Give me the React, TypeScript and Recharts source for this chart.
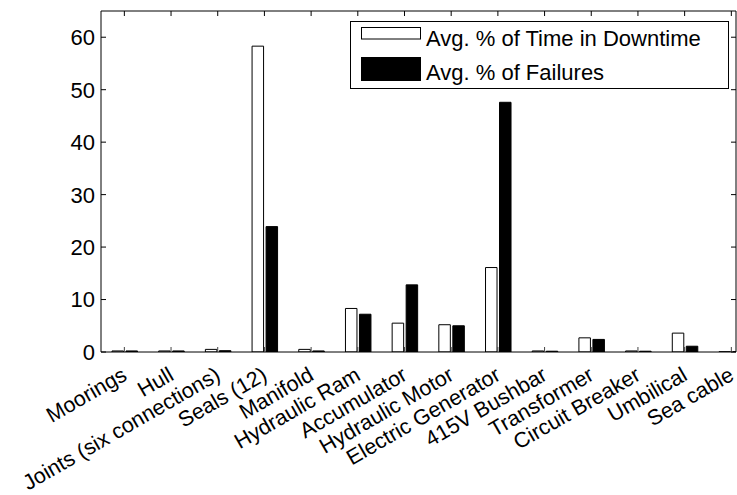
import React from 'react'
import { Bar, BarChart, Legend, XAxis, YAxis } from 'recharts'

// ─── data ─────────────────────────────────────────────────────
const components = [
  'Moorings', 'Hull', 'Joints (six connections)', 'Seals (12)', 'Manifold',
  'Hydraulic Ram', 'Accumulator', 'Hydraulic Motor', 'Electric Generator',
  '415V Bushbar', 'Transformer', 'Circuit Breaker', 'Umbilical', 'Sea cable',
]
const downtimePct = [0.2, 0.2, 0.5, 58.3, 0.5, 8.3, 5.5, 5.2, 16.1, 0.2, 2.7, 0.2, 3.6, 0.05]
const failurePct = [0.2, 0.2, 0.25, 23.9, 0.2, 7.2, 12.8, 5.0, 47.6, 0.15, 2.4, 0.15, 1.1, 0.05]
const yTicks = [0, 10, 20, 30, 40, 50, 60]

const SERIES = {
  downtime: 'Avg. % of Time in Downtime',
  failures: 'Avg. % of Failures',
}

const data = components.map((name, i) => ({
  pos: i + 1,
  name,
  downtime: downtimePct[i],
  failures: failurePct[i],
}))
const xTicks = data.map(d => d.pos)

const FONT = '"Liberation Sans", Arial, sans-serif'
const X_DOMAIN: [number, number] = [0.5, 14.1]
const Y_DOMAIN: [number, number] = [0, 65]

// ─── ticks (MATLAB style, pointing inward) ────────────────────
function BottomTick({ x, y, payload }: any) {
  const label = components[payload.value - 1]
  const lx = x + 4
  const ly = y + 27
  return (
    <g>
      <line x1={x} y1={y} x2={x} y2={y - 5} stroke="#444" />
      <text x={lx} y={ly} textAnchor="end" fontSize={21.5} fontFamily={FONT} fill="#000"
        transform={`rotate(-30, ${lx}, ${ly})`}>
        {label}
      </text>
    </g>
  )
}

function TopTick({ x, y }: any) {
  return <line x1={x} y1={y} x2={x} y2={y + 5} stroke="#000" />
}

function LeftTick({ x, y, payload }: any) {
  return (
    <g>
      <line x1={x} y1={y} x2={x + 5} y2={y} stroke="#000" />
      <text x={x - 6} y={y} dy="0.36em" textAnchor="end" fontSize={22} fontFamily={FONT} fill="#000">
        {payload.value}
      </text>
    </g>
  )
}

function RightTick({ x, y }: any) {
  return <line x1={x} y1={y} x2={x - 5} y2={y} stroke="#000" />
}

function LegendBox() {
  return (
    <svg width={379} height={68} style={{ display: 'block' }}>
      <rect x={0.5} y={0.5} width={378} height={67} fill="#fff" stroke="#000" />
      <rect x={11.5} y={6.5} width={59} height={11.5} fill="#fff" stroke="#000" />
      <text x={76} y={25} fontSize={22} fontFamily={FONT} fill="#000">{SERIES.downtime}</text>
      <rect x={11} y={36} width={60} height={24} fill="#000" />
      <text x={76} y={59} fontSize={22} fontFamily={FONT} fill="#000">{SERIES.failures}</text>
    </svg>
  )
}

export default function App() {
  return (
    <div style={{ width: 737, height: 495, background: '#fff', position: 'relative' }}>
      <style>{'body{margin:0;background:#fff}'}</style>
      <BarChart
        width={737}
        height={495}
        data={data}
        margin={{ top: 10, right: 0, bottom: 142, left: 100 }}
        barGap={2.5}
      >
        <XAxis
          xAxisId="bottom"
          dataKey="pos"
          type="number"
          domain={X_DOMAIN}
          allowDataOverflow
          ticks={xTicks}
          interval={0}
          height={1}
          tickSize={0}
          tickMargin={0}
          tickLine={false}
          tick={<BottomTick />}
          axisLine={{ stroke: '#000' }}
        />
        <XAxis
          xAxisId="top"
          orientation="top"
          dataKey="pos"
          type="number"
          domain={X_DOMAIN}
          allowDataOverflow
          ticks={xTicks}
          interval={0}
          height={1}
          tickSize={0}
          tickMargin={0}
          tickLine={false}
          tick={<TopTick />}
          axisLine={{ stroke: '#000' }}
        />
        <YAxis
          yAxisId="left"
          type="number"
          domain={Y_DOMAIN}
          allowDataOverflow
          ticks={yTicks}
          interval={0}
          width={1}
          tickSize={0}
          tickMargin={0}
          tickLine={false}
          tick={<LeftTick />}
          axisLine={{ stroke: '#000' }}
        />
        <YAxis
          yAxisId="right"
          orientation="right"
          type="number"
          domain={Y_DOMAIN}
          allowDataOverflow
          ticks={yTicks}
          interval={0}
          width={1}
          tickSize={0}
          tickMargin={0}
          tickLine={false}
          tick={<RightTick />}
          axisLine={{ stroke: '#000' }}
        />
        <Legend
          layout="vertical"
          align="center"
          verticalAlign="middle"
          content={() => <LegendBox />}
          wrapperStyle={{ position: 'absolute', left: 350, top: 21, width: 379, height: 68 }}
        />
        <Bar
          xAxisId="bottom"
          yAxisId="left"
          dataKey="downtime"
          name={SERIES.downtime}
          barSize={11.5}
          fill="#fff"
          stroke="#000"
          strokeWidth={1}
          isAnimationActive={false}
        />
        <Bar
          xAxisId="bottom"
          yAxisId="left"
          dataKey="failures"
          name={SERIES.failures}
          barSize={11.5}
          fill="#000"
          stroke="#000"
          strokeWidth={1}
          isAnimationActive={false}
        />
      </BarChart>
    </div>
  )
}
